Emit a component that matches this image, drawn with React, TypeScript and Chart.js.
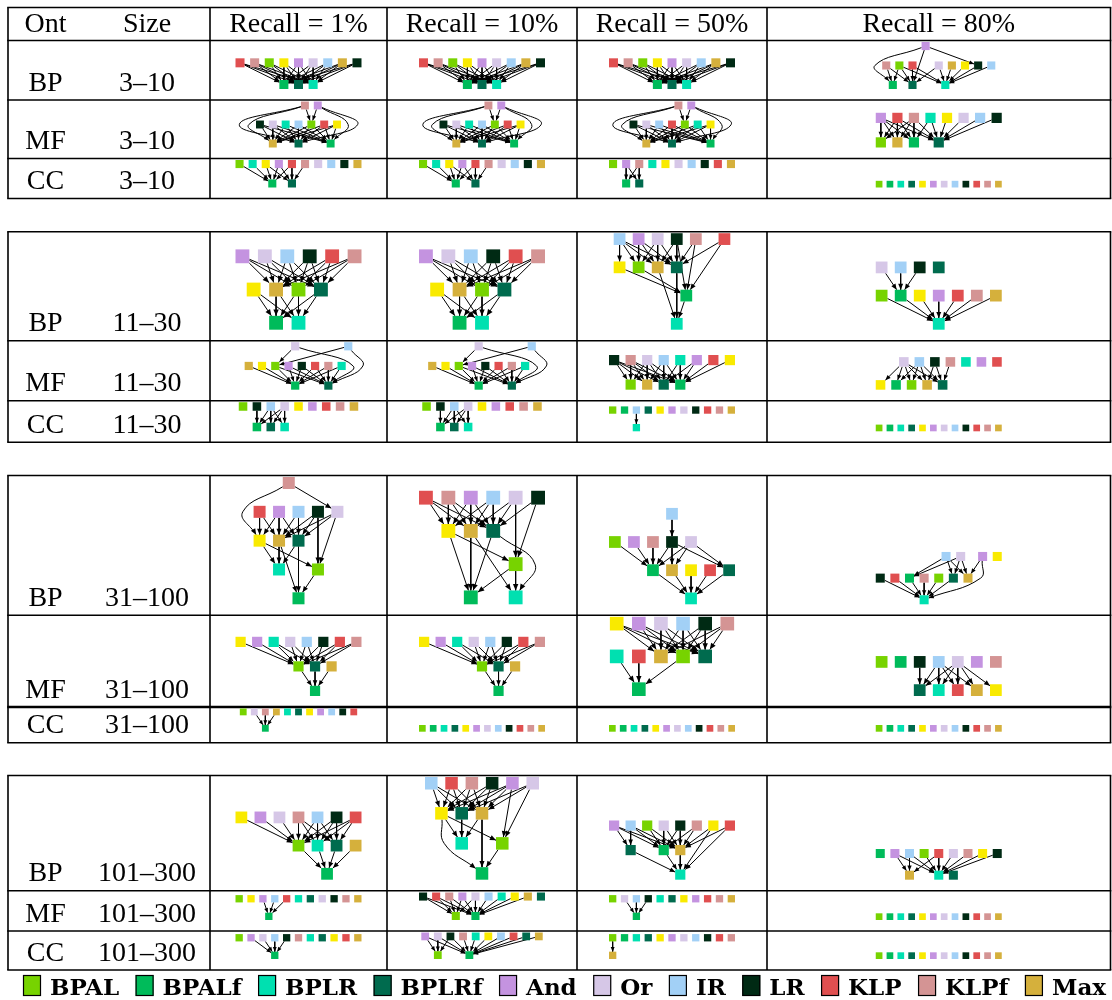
import React, { useEffect, useRef } from 'react';
import { Chart, registerables } from 'chart.js';

Chart.register(...registerables);

// ---------------- DATA ----------------
// node codes -> methods
const methodCodes = ['a', 'b', 'c', 'd', 'e', 'o', 'i', 'l', 'k', 'p', 'm', 'y'];
const methodNames = ['BPAL', 'BPALf', 'BPLR', 'BPLRf', 'And', 'Or', 'IR', 'LR', 'KLP', 'KLPf', 'Max', 'unlabelled'];
const methodColors = ['#77d300', '#00bb5a', '#00e0b0', '#006b4e', '#c493e0', '#d6c7e7', '#a2d0f6', '#002a14', '#e04f50', '#d49494', '#d5b03c', '#f9ea00'];
const legendMethods = ['BPAL', 'BPALf', 'BPLR', 'BPLRf', 'And', 'Or', 'IR', 'LR', 'KLP', 'KLPf', 'Max'];

const ontologies = ['BP', 'MF', 'CC'];
const sizeRanges = ['3–10', '11–30', '31–100', '101–300'];
const headerLabels = ['Ont', 'Size'];
const recallLabels = ['Recall = 1%', 'Recall = 10%', 'Recall = 50%', 'Recall = 80%'];

// Each cell: "layer/layer/...|edges". In a layer, a letter is a node, '.' is half a slot gap.
// Edges: "src>dst" straight, "src(dst" curved round the left, "src)dst" curved round the right.
const bp3to10 = [
  'kpayeoiml/......bdc|kpayeoiml>bdc',
  'kpayeoiml/......bdc|kpayeoiml>bdc',
  'kpayeoiml/......bdc|kpayeoiml>bdc',
  '......e/pak..omyli/.b.d...c|p>bd a>bdc k>dc o>dc m>c y>c l>c i>c e(b e>d e>l',
];
const mf3to10 = [
  '.......pe/lociaky/..m..d...b|p>a e>a p(m p(d e)b e)d lociaky>mdb',
  '.......pe/lociaky/..m..d...b|p>a e>a p(m p(d e)b e)d lociaky>mdb',
  '.......pe/loikacy/..m..d....b|p>a e>a p(m p(d e)b e)d loikacy>mdb',
  'ekpcyoil/amb.d|ekp>ambd c>bd yoil>d',
];
const cc3to10 = [
  'acyekpoilm/.....b.d|ac>b yek>bd p>d',
  'acyekpoilm/.....b.d|ac>b yek>bd p>d',
  'aepcyoilkm/..bd|ep>bd',
  'abcdyeoilkpm|',
];
const bp11to30 = [
  'eoilkp/.ymad/...bc|eoilkp>mad ymad>bc',
  'eoilkp/.ymad/...bc|eoilkp>mad ymad>bc',
  'ieolp.k/yamd/.......b/......c|i>yamd eo>amd l>mdb pk>db ya>b md>c b>c',
  'oild/abyekpm/......c|oil>b abyekpm>c',
];
const mf11to30 = [
  '.......o......i/myaelkpc/.......b...d|oi>a o)d i)d my>b aelkpc>bd',
  '.......o......i/myaelkpc/.......b...d|oi>a o)d i)d my>b aelkpc>bd',
  'lpoiceky/..amdb|lpo>amdb i>mdb ce>db ky>b',
  '...oilpcek/ybamd|o>ybamd i>bamd l>md p>d',
];
const cc11to30 = [
  'alioyekpm/..bdc|l>b io>bdc',
  'alioyekpm/..bdc|l>b io>bdc',
  'abidyeolkpm/....c|i>c',
  'abcdyeoilkpm|',
];
const bp31to100 = [
  '...p/keilo/ymd/..c..a/....b|p>o p(y k>ym e>ymd i>md lo>mda y>ca m>cb d>cb a>b',
  'kpeiol/..ymd/........a/....b..c|kpei>ymd o>mda l>da y>ab m>bc d>b d)c a>bc',
  '......i/aeplo/....bmykd/........c|i>l aep>b lo>bmd bmykd>c',
  '.........io.ey/lkbpadm/......c|io>bdm e>m e)c lkbpad>c',
];
const mf31to100 = [
  'yecoilkp/.......adm/.........b|ye>a coilkp>ad adm>b',
  'yecoilkp/.......adm/.........b|ye>a coilkp>ad adm>b',
  'yeoilp/ckmad/..b|yeoilp>mad cka>b',
  'ablioep/....dckmy|l>d i>dckm o>dckmy',
];
const cc31to100 = [
  'aopmcdyeilk/....b|opm>b',
  'abcdyeoilkpm|',
  'abcdyeoilkpm|',
  'abcdyeoilkpm|',
];
const bp101to300 = [
  'yeopilk/......acdm/.........b|yeo>a pilk>acd acdm>b',
  'ikpleo/.ydm/...c..a/.....b|ikpl>ydm e>ydma o>dma y>ca y(b d>c m>cb a>b',
  'eiaolpyk/..d..bm/........c|ei>dbm aolp>bm yk>mc dbm>c',
  'beiakopyl/....m..cd|e>mc i>mc a>c k>mc opyl>c',
];
const mf101to300 = [
  'ayeikcdolpm/.....b|eik>b',
  'lkpeoicymd/.....a.b|lkpeo>ab icym>b',
  'aoilcdyekpm/....b|oil>b',
  'abcdyeoilkpm|',
];
const cc101to300 = [
  'aeoilpcdykm/......b|eoil>b',
  'eolpcyikdm/..a...b|eol>ab pcyikdm>b',
  'abcdyeoilkp/m|a>m',
  'abcdyeoilkpm|',
];

const sizeGroups = [
  [bp3to10, mf3to10, cc3to10],
  [bp11to30, mf11to30, cc11to30],
  [bp31to100, mf31to100, cc31to100],
  [bp101to300, mf101to300, cc101to300],
];

// ---------------- LAYOUT ----------------
const W = 1112;
const H = 1000;
const COL_X = [8, 210, 387, 577, 767, 1110.5];
const GROUP_LINES = [
  [7.5, 40.5, 100, 158.5, 198.5],
  [231.7, 340.7, 400.7, 442.3],
  [475.5, 615.3, 707, 742.7],
  [775.5, 890.7, 931, 970],
];
const THICK_Y = 707;
const ONT_X = 45.5;
const SIZE_X = 147;
const PITCH = 1.62; // horizontal node pitch / node size
const ROWP = 2.4; // rank pitch / node size
const WMAX = 126;
const VMARGIN = 12.5;
const BOTTOM_GAP = 11;

function parseEdges(str: string) {
  const out: { s: string; t: string; kind: string }[] = [];
  str.trim().split(/\s+/).forEach((tok) => {
    const m = tok.match(/^([a-z]+)([>()])([a-z]+)$/);
    if (!m) return;
    for (const s of m[1]) for (const t of m[3]) out.push({ s, t, kind: m[2] });
  });
  return out;
}

function clip(n: any, tx: number, ty: number, half: number) {
  const dx = tx - n.x;
  const dy = ty - n.y;
  const m = Math.max(Math.abs(dx), Math.abs(dy));
  if (m === 0) return { x: n.x, y: n.y };
  const f = half / m;
  return { x: n.x + dx * f, y: n.y + dy * f };
}

function layoutCell(spec: string, cx: number, top: number, bottom: number, nodes: any, straight: any[], curved: any[]) {
  const [layerPart, edgePart = ''] = spec.split('|');
  const layers = layerPart.split('/');
  const placed: any[] = [];
  layers.forEach((str, li) => {
    let pos = 0;
    for (const ch of str) {
      if (ch === '.') { pos += 1; continue; }
      placed.push({ code: ch, h: pos, layer: li, x: 0, y: 0 });
      pos += 2;
    }
  });
  const hMin = Math.min(...placed.map((n) => n.h));
  const hMax = Math.max(...placed.map((n) => n.h));
  const spanSlots = (hMax - hMin) / 2;
  const L = layers.length;
  const natW = spanSlots * PITCH + 1;
  const natH = (L - 1) * ROWP + 1;
  const s = Math.min(WMAX / natW, (bottom - top - VMARGIN) / natH);
  const baseY = bottom - BOTTOM_GAP - s / 2;
  const left = cx - (spanSlots * PITCH * s) / 2;
  const byCode: any = {};
  placed.forEach((n) => {
    n.x = left + ((n.h - hMin) / 2) * PITCH * s;
    n.y = baseY - (L - 1 - n.layer) * ROWP * s;
    byCode[n.code] = n;
    nodes[n.code].push({ x: n.x, y: n.y, r: s / Math.SQRT2 });
  });
  const half = s / 2;
  const al = 2.6 + 0.28 * s;
  const loops: any = { '(': 0, ')': 0 };
  parseEdges(edgePart).forEach(({ s: a, t: b, kind }) => {
    const A = byCode[a];
    const B = byCode[b];
    if (!A || !B) return;
    if (kind === '>') {
      const p1 = clip(A, B.x, B.y, half);
      const p2 = clip(B, A.x, A.y, half);
      straight.push({ x: p1.x, y: p1.y }, { x: p2.x, y: p2.y, al }, { x: null, y: null });
    } else {
      const side = kind === '(' ? -1 : 1;
      const lo = Math.min(A.layer, B.layer);
      const hi = Math.max(A.layer, B.layer);
      let mids = placed.filter((n) => n.layer > lo && n.layer < hi);
      if (!mids.length) mids = [A, B];
      const xs = mids.map((n) => n.x);
      const ext = side < 0 ? Math.min(...xs) : Math.max(...xs);
      const k = loops[kind]++;
      const wx = ext + side * (half + s * (0.9 + 1.2 * k));
      const wy = mids.reduce((acc, n) => acc + n.y, 0) / mids.length;
      const p1 = clip(A, wx, wy, half);
      const p2 = clip(B, wx, wy, half);
      curved.push({ x: p1.x, y: p1.y }, { x: wx, y: wy }, { x: p2.x, y: p2.y, al }, { x: null, y: null });
    }
  });
}

function buildGraphs() {
  const nodes: any = {};
  methodCodes.forEach((c) => (nodes[c] = []));
  const straight: any[] = [];
  const curved: any[] = [];
  sizeGroups.forEach((group, g) => {
    const lines = GROUP_LINES[g];
    const off = g === 0 ? 1 : 0;
    group.forEach((row, r) => {
      const top = lines[r + off];
      const bottom = lines[r + off + 1];
      row.forEach((spec, c) => {
        const cx = (COL_X[c + 1] + COL_X[c + 2]) / 2;
        layoutCell(spec, cx, top, bottom, nodes, straight, curved);
      });
    });
  });
  return { nodes, straight, curved };
}

// ---------------- PLUGINS ----------------
const tablePlugin = {
  id: 'tableGrid',
  beforeDatasetsDraw(chart: any) {
    const ctx = chart.ctx;
    const X = (v: number) => chart.scales.x.getPixelForValue(v);
    const Y = (v: number) => chart.scales.y.getPixelForValue(v);
    ctx.save();
    ctx.strokeStyle = '#000';
    const seg = (x1: number, y1: number, x2: number, y2: number) => {
      ctx.beginPath();
      ctx.moveTo(x1, y1);
      ctx.lineTo(x2, y2);
      ctx.stroke();
    };
    GROUP_LINES.forEach((lines) => {
      lines.forEach((y) => {
        ctx.lineWidth = y === THICK_Y ? 2.6 : 1.6;
        seg(X(COL_X[0]) - 0.8, Y(y), X(COL_X[COL_X.length - 1]) + 0.8, Y(y));
      });
      ctx.lineWidth = 1.6;
      COL_X.forEach((x) => seg(X(x), Y(lines[0]), X(x), Y(lines[lines.length - 1])));
    });
    ctx.fillStyle = '#000';
    ctx.font = '28px "Liberation Serif", serif';
    ctx.textAlign = 'center';
    ctx.textBaseline = 'alphabetic';
    const hb = Y(GROUP_LINES[0][1] - 8.5);
    ctx.fillText(headerLabels[0], X(ONT_X), hb);
    ctx.fillText(headerLabels[1], X(SIZE_X), hb);
    recallLabels.forEach((t, c) => ctx.fillText(t, X((COL_X[c + 1] + COL_X[c + 2]) / 2), hb));
    GROUP_LINES.forEach((lines, g) => {
      const off = g === 0 ? 1 : 0;
      ontologies.forEach((ont, r) => {
        const b = Y(lines[r + off + 1] - 9.5);
        ctx.fillText(ont, X(ONT_X), b);
        ctx.fillText(sizeRanges[g], X(SIZE_X), b);
      });
    });
    ctx.restore();
  },
};

const arrowPlugin = {
  id: 'arrowheads',
  afterDatasetDraw(chart: any, args: any) {
    const ds = chart.data.datasets[args.index];
    if (!ds.isEdge) return;
    const pts = args.meta.data;
    const ctx = chart.ctx;
    ctx.save();
    ctx.fillStyle = '#000';
    for (let i = 1; i < pts.length; i++) {
      const p = pts[i];
      if (p.skip) continue;
      const nxt = pts[i + 1];
      if (nxt && !nxt.skip) continue;
      const prev = pts[i - 1];
      if (!prev || prev.skip) continue;
      let dx = 0;
      let dy = 0;
      if (ds.tension > 0 && typeof p.cp1x === 'number') {
        dx = p.x - p.cp1x;
        dy = p.y - p.cp1y;
      }
      if (Math.abs(dx) + Math.abs(dy) < 0.01) {
        dx = p.x - prev.x;
        dy = p.y - prev.y;
      }
      const len = Math.hypot(dx, dy) || 1;
      const ux = dx / len;
      const uy = dy / len;
      const raw = ds.data[i];
      const al = (raw && raw.al) || 4;
      const hw = al * 0.42;
      ctx.beginPath();
      ctx.moveTo(p.x, p.y);
      ctx.lineTo(p.x - ux * al - uy * hw, p.y - uy * al + ux * hw);
      ctx.lineTo(p.x - ux * al + uy * hw, p.y - uy * al - ux * hw);
      ctx.closePath();
      ctx.fill();
    }
    ctx.restore();
  },
};

const legendPlugin = {
  id: 'bottomLegend',
  afterDraw(chart: any) {
    const ctx = chart.ctx;
    const X = (v: number) => chart.scales.x.getPixelForValue(v);
    const Y = (v: number) => chart.scales.y.getPixelForValue(v);
    ctx.save();
    ctx.font = 'bold 23px "DejaVu Serif", serif';
    ctx.textAlign = 'left';
    ctx.textBaseline = 'alphabetic';
    const widths = legendMethods.map((n) => ctx.measureText(n).width);
    const boxW = 18;
    const boxH = 21;
    const gapBT = 9;
    const content = widths.reduce((acc, w) => acc + boxW + gapBT + w, 0);
    const x0 = X(23);
    const x1 = X(1106);
    const gap = (x1 - x0 - content) / (legendMethods.length - 1);
    const boxTop = Y(975);
    const base = Y(994.5);
    let x = x0;
    legendMethods.forEach((name, i) => {
      const color = methodColors[methodNames.indexOf(name)];
      ctx.fillStyle = color;
      ctx.fillRect(x, boxTop, boxW, boxH);
      ctx.strokeStyle = '#000';
      ctx.lineWidth = 1.2;
      ctx.strokeRect(x + 0.5, boxTop + 0.5, boxW - 1, boxH - 1);
      ctx.fillStyle = '#000';
      ctx.fillText(name, x + boxW + gapBT, base);
      x += boxW + gapBT + widths[i] + gap;
    });
    ctx.restore();
  },
};

export default function App() {
  const ref = useRef<HTMLCanvasElement>(null);
  useEffect(() => {
    const canvas = ref.current;
    if (!canvas) return;
    const built = buildGraphs();
    const datasets: any[] = [];
    methodCodes.forEach((code, i) => {
      datasets.push({
        label: methodNames[i],
        data: built.nodes[code],
        pointStyle: 'rect',
        pointRadius: (c: any) => (c.raw && c.raw.r) || 0,
        backgroundColor: methodColors[i],
        borderColor: methodColors[i],
        borderWidth: 0,
        showLine: false,
        clip: false,
        order: 0,
      });
    });
    datasets.push({
      label: 'edges',
      data: built.straight,
      showLine: true,
      pointRadius: 0,
      borderColor: '#000',
      borderWidth: 1,
      tension: 0,
      spanGaps: false,
      fill: false,
      clip: false,
      isEdge: true,
      order: 1,
    });
    datasets.push({
      label: 'curved edges',
      data: built.curved,
      showLine: true,
      pointRadius: 0,
      borderColor: '#000',
      borderWidth: 1,
      tension: 0.45,
      spanGaps: false,
      fill: false,
      clip: false,
      isEdge: true,
      order: 1,
    });
    const chart = new Chart(canvas, {
      type: 'scatter',
      data: { datasets },
      options: {
        animation: false,
        responsive: false,
        devicePixelRatio: 1,
        events: [],
        layout: { autoPadding: false, padding: 0 },
        scales: {
          x: { type: 'linear', min: 0, max: W, display: false, offset: false, grace: 0 },
          y: { type: 'linear', min: 0, max: H, reverse: true, display: false, offset: false, grace: 0 },
        },
        plugins: { legend: { display: false }, tooltip: { enabled: false } },
      } as any,
      plugins: [tablePlugin, arrowPlugin, legendPlugin] as any,
    });
    return () => chart.destroy();
  }, []);
  return (
    <div style={{ position: 'absolute', left: 0, top: 0, width: W, height: H, background: '#fff' }}>
      <canvas ref={ref} width={W} height={H} style={{ width: W, height: H, display: 'block' }} />
    </div>
  );
}
